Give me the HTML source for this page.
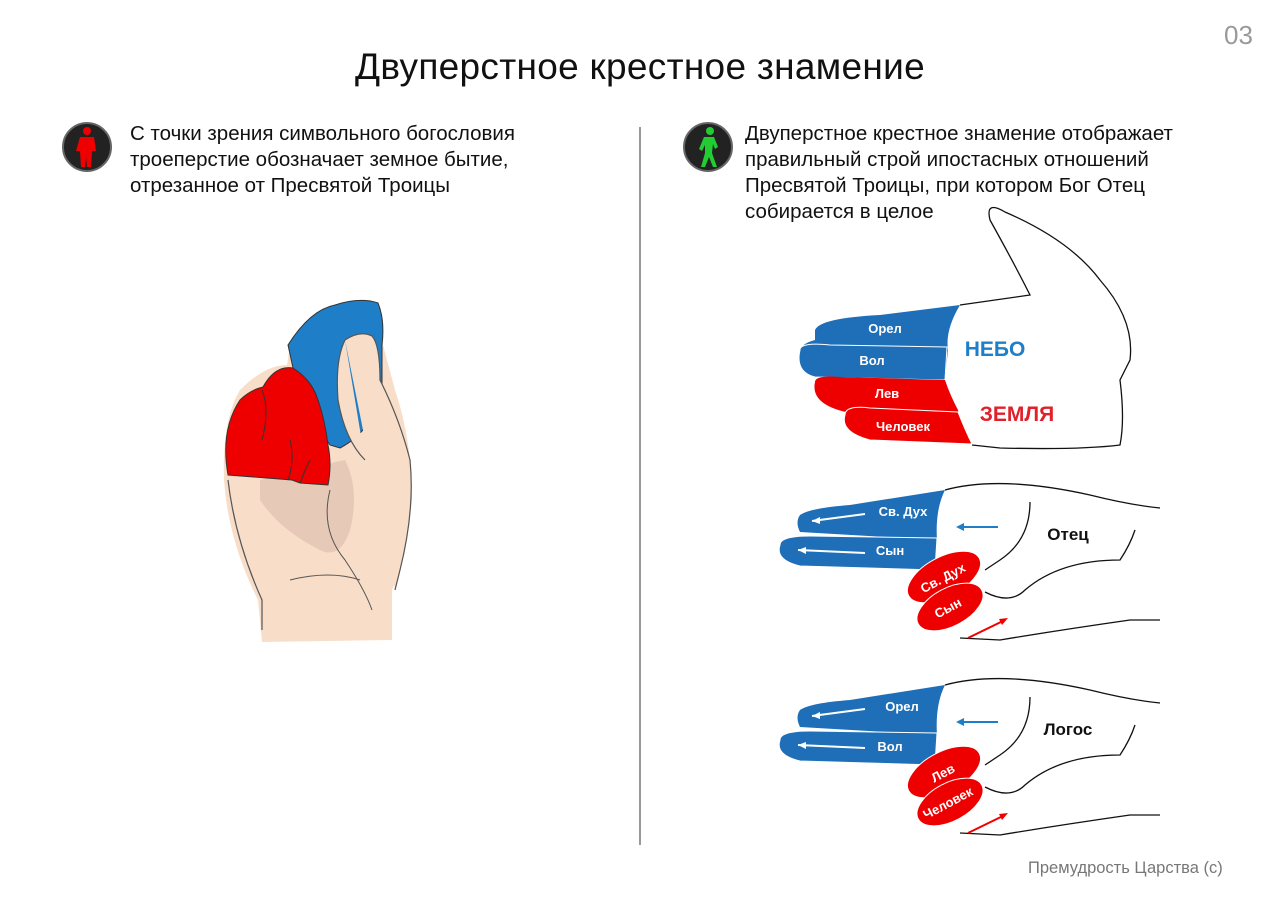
<!DOCTYPE html>
<html><head><meta charset="utf-8"><style>
body{margin:0;width:1280px;height:905px;background:#fff;overflow:hidden;position:relative;font-family:"Liberation Sans",sans-serif;}
.t{position:absolute;color:#111;}
</style></head><body>
<div class="t" style="left:0;width:1280px;top:46px;text-align:center;font-size:37px;letter-spacing:0.3px;">Двуперстное крестное знамение</div>
<div class="t" style="left:1224px;top:20px;font-size:26px;color:#999;">03</div>
<div class="t" style="left:130px;top:121px;font-size:20.5px;line-height:26px;">С точки зрения символьного богословия<br>троеперстие обозначает земное бытие,<br>отрезанное от Пресвятой Троицы</div>
<div class="t" style="left:745px;top:121px;font-size:20.5px;line-height:26px;">Двуперстное крестное знамение отображает<br>правильный строй ипостасных отношений<br>Пресвятой Троицы, при котором Бог Отец<br>собирается в целое</div>
<div class="t" style="left:1028px;top:859px;font-size:16.5px;color:#777;">Премудрость Царства (с)</div>
<svg width="1280" height="905" style="position:absolute;left:0;top:0" font-family="Liberation Sans, sans-serif" font-weight="bold">
<line x1="640" y1="127" x2="640" y2="845" stroke="#777" stroke-width="1.5"/>
<circle cx="87" cy="147" r="24" fill="#222" stroke="#666" stroke-width="2"/>
<g fill="#e00"><circle cx="87" cy="131" r="4"/><path d="M80 137h14l2 14h-4l-1 16h-4l-1-10-1 10h-4l-1-16h-4z"/></g>
<circle cx="708" cy="147" r="24" fill="#222" stroke="#666" stroke-width="2"/>
<g fill="#2c3"><circle cx="710" cy="131" r="4"/><path d="M704 137h10l4 10-3 2-2-5-1 9 5 14h-4l-4-10-4 10h-4l4-14 0-8-3 6-3-2z"/></g>
<!-- left hand -->
<path d="M240 390 Q265 365 287 365 L290 345 Q330 300 370 300 Q385 305 383 345 L395 390 Q412 440 412 500 Q405 560 392 590 L392 640 L262 642 L258 600 Q228 540 224 480 Q222 420 240 390Z" fill="#f8ddc8"/>
<path d="M260 480 Q300 470 345 460 Q360 490 350 530 Q340 560 320 550 Q280 530 260 500Z" fill="#e6c9b6"/>
<path d="M288 345 Q310 310 335 305 Q360 297 378 303 Q385 320 382 345 L382 385 Q375 430 340 448 L330 445 L300 400 Z" fill="#1e7fc8" stroke="#333" stroke-width="1"/>
<path d="M345 340 Q360 330 372 336 Q380 345 380 380 Q400 420 410 460 Q415 510 400 570 L395 590 M345 340 Q335 360 338 400 Q345 440 365 460" fill="#f8ddc8" stroke="#555" stroke-width="1.2"/>
<path d="M228 480 Q235 540 262 600 L262 630" fill="none" stroke="#555" stroke-width="1.2"/>
<path d="M330 490 Q320 530 345 560 Q365 590 372 610 M290 580 Q330 570 360 580" fill="none" stroke="#555" stroke-width="1"/>
<path d="M263 387 Q275 365 293 368 Q312 380 318 400 Q325 420 328 445 Q332 465 328 485 L300 483 L292 480 L228 475 Q220 430 240 400 Q250 390 263 387Z" fill="#e00" stroke="#333" stroke-width="1"/>
<path d="M262 390 Q270 410 262 440 M290 440 Q295 460 288 480 M310 460 Q305 470 300 483" fill="none" stroke="#333" stroke-width="1"/>
<!-- hand 1 -->
<path d="M960 305 L1030 295 Q1015 265 990 220 Q985 200 1005 212 Q1070 240 1100 280 Q1135 320 1130 360 L1120 380 Q1125 420 1120 445 Q1080 450 1000 448 L972 445" fill="none" stroke="#111" stroke-width="1.3"/>
<path d="M815 330 Q820 318 880 315 L960 305 Q945 330 948 350 L945 378 L820 365 L800 360 Q795 345 815 340Z" fill="#1e6fb8"/>
<path d="M800 350 Q800 342 830 345 L947 347 L945 380 L815 377 Q795 372 800 350Z" fill="#1e6fb8" stroke="#fff" stroke-width="1"/>
<path d="M815 382 Q815 375 840 377 L945 380 Q950 395 958 410 L960 420 L850 413 Q810 405 815 382Z" fill="#e00"/>
<path d="M845 415 Q845 405 870 408 L958 412 Q965 430 972 444 L870 440 Q840 432 845 415Z" fill="#e00" stroke="#fff" stroke-width="1"/>
<g fill="#fff" font-size="13" text-anchor="middle"><text x="885" y="333">Орел</text><text x="872" y="365">Вол</text><text x="887" y="398">Лев</text><text x="903" y="431">Человек</text></g>
<text x="995" y="356" fill="#1e7fc8" font-size="21" text-anchor="middle">НЕБО</text>
<text x="1017" y="421" fill="#e0202a" font-size="21" text-anchor="middle">ЗЕМЛЯ</text>
<!-- hand 2 & 3 -->
<g id="h">
<path d="M945 490 Q1000 475 1090 495 Q1130 505 1160 508 M1030 502 Q1030 540 1000 560 L985 570 M985 592 Q1010 605 1025 590 Q1060 560 1120 560 Q1130 545 1135 530 M1160 620 L1130 620 Q1060 630 1000 640 L960 638" fill="none" stroke="#111" stroke-width="1.3"/>
<path d="M800 515 Q810 508 850 505 L945 490 Q935 510 937 540 L800 532 Q795 522 800 515Z" fill="#1e6fb8"/>
<path d="M780 545 Q780 536 810 536 L937 538 L935 570 L800 566 Q775 560 780 545Z" fill="#1e6fb8" stroke="#fff" stroke-width="1"/>
<ellipse cx="944" cy="577" rx="40" ry="20" transform="rotate(-28 944 577)" fill="#e00" stroke="#fff"/>
<ellipse cx="950" cy="607" rx="36" ry="19" transform="rotate(-28 950 607)" fill="#e00" stroke="#fff"/>
<g stroke="#fff" stroke-width="2"><line x1="865" y1="514" x2="812" y2="521"/><line x1="865" y1="553" x2="798" y2="550"/></g>
<path d="M812 521l8-4v7z M798 550l8-3v7z" fill="#fff"/>
<line x1="998" y1="527" x2="960" y2="527" stroke="#1e7fc8" stroke-width="2"/><path d="M956 527l8-4v8z" fill="#1e7fc8"/>
<line x1="968" y1="638" x2="1005" y2="620" stroke="#e00" stroke-width="2"/><path d="M1008 618l-9 1 3 6z" fill="#e00"/>
</g>
<use href="#h" y="195"/>
<g fill="#fff" font-size="13" text-anchor="middle">
<text x="903" y="516">Св. Дух</text><text x="890" y="555">Сын</text>
<text x="945" y="582" transform="rotate(-28 945 582)">Св. Дух</text><text x="950" y="612" transform="rotate(-28 950 612)">Сын</text>
<text x="902" y="711">Орел</text><text x="890" y="751">Вол</text>
<text x="945" y="777" transform="rotate(-28 945 777)">Лев</text><text x="950" y="807" transform="rotate(-28 950 807)">Человек</text>
</g>
<g fill="#111" font-size="17" text-anchor="middle"><text x="1068" y="540">Отец</text><text x="1068" y="735">Логос</text></g>
</svg>
</body></html>
